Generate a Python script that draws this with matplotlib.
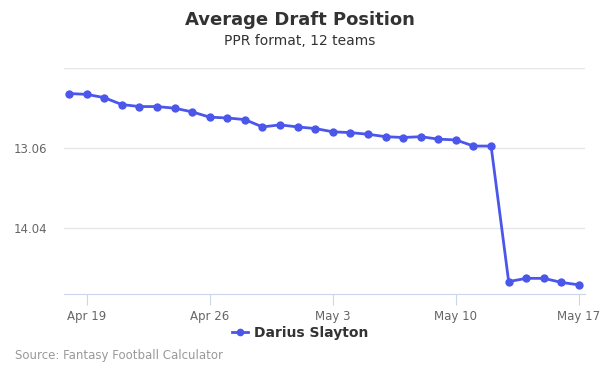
import matplotlib
matplotlib.use("Agg")
import matplotlib.pyplot as plt
import matplotlib.dates as mdates
from matplotlib.lines import Line2D
import datetime as dt

start = dt.date(2019, 4, 18)
dates = [start + dt.timedelta(days=i) for i in range(30)]
adp = [12.39, 12.40, 12.44, 12.525, 12.55, 12.55, 12.57, 12.615, 12.68, 12.69,
       12.71, 12.80, 12.775, 12.80, 12.82, 12.86, 12.87, 12.89, 12.92, 12.93,
       12.92, 12.95, 12.96, 13.035, 13.035, 14.70, 14.66, 14.66, 14.71, 14.74]
series_name = "Darius Slayton"
ytick_vals = [12.08, 13.06, 14.04]
ytick_labels = ["", "13.06", "14.04"]
xtick_dates = [dt.date(2019, 4, 19), dt.date(2019, 4, 26), dt.date(2019, 5, 3),
               dt.date(2019, 5, 10), dt.date(2019, 5, 17)]
xtick_labels = ["Apr 19", "Apr 26", "May 3", "May 10", "May 17"]

color = "#4b56ea"
fig = plt.figure(figsize=(6, 3.75), dpi=100)
ax = fig.add_axes([64/600, 1-294.3/375, (585-64)/600, (294.3-68.3)/375])

ax.plot(dates, adp, color=color, lw=2, marker="o", ms=6, mew=0, zorder=3)

ax.set_ylim(14.856, 12.08)
ax.set_yticks(ytick_vals)
ax.set_yticklabels(ytick_labels)
x0 = mdates.date2num(start)
ax.set_xlim(x0 - 0.284, x0 + 29.34)
ax.set_xticks([mdates.date2num(d) for d in xtick_dates])
ax.set_xticklabels(xtick_labels)

ax.grid(axis="y", color="#e6e6e6", lw=1)
ax.set_axisbelow(True)
for s in ["top", "right", "left"]:
    ax.spines[s].set_visible(False)
ax.spines["bottom"].set_color("#ccd6eb")
ax.tick_params(axis="y", length=0, labelsize=8.5, labelcolor="#666666", pad=12)
ax.tick_params(axis="x", length=8, color="#ccd6eb", labelsize=8.5,
               labelcolor="#666666", pad=3)

fig.text(0.5, 1-20/375, "Average Draft Position", ha="center", va="center",
         fontsize=13, fontweight="bold", color="#333333")
fig.text(0.5, 1-41/375, "PPR format, 12 teams", ha="center", va="center",
         fontsize=10, color="#333333")
fig.text(15/600, 1-356/375, "Source: Fantasy Football Calculator", ha="left",
         va="center", fontsize=8.5, color="#999999")

handle = Line2D([], [], color=color, lw=2, marker="o", ms=5.5, mew=0)
fig.legend([handle], [series_name], loc="center", bbox_to_anchor=(0.5, 1-333/375),
           frameon=False, prop={"weight": "bold", "size": 10}, handlelength=1.2,
           handletextpad=0.4, labelcolor="#333333")

fig.savefig("out.png", dpi=100)
